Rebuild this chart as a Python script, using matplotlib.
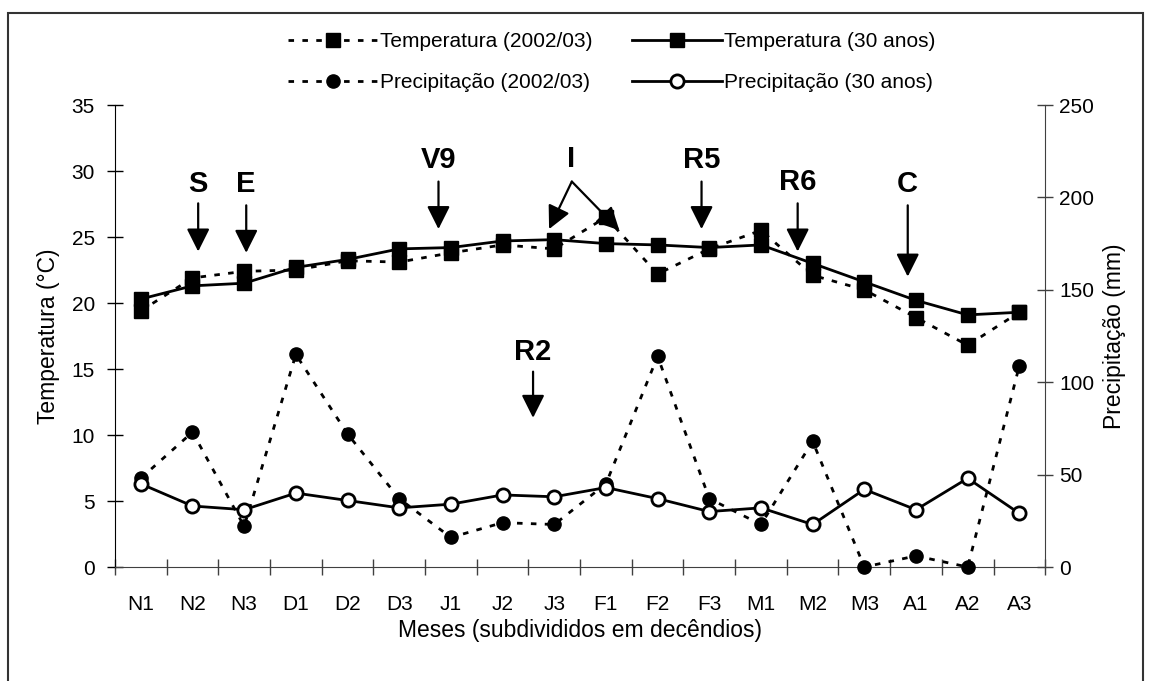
import matplotlib
matplotlib.use("Agg")
import matplotlib.pyplot as plt
from matplotlib.patches import Rectangle
from matplotlib.lines import Line2D

plt.rcParams["font.family"] = ["Liberation Sans", "DejaVu Sans"]

# decêndios (Nov -> Abr)
meses = ["N1", "N2", "N3", "D1", "D2", "D3", "J1", "J2", "J3",
         "F1", "F2", "F3", "M1", "M2", "M3", "A1", "A2", "A3"]
temp_0203 = [19.4, 21.9, 22.4, 22.5, 23.2, 23.1, 23.8, 24.4, 24.1,
             26.5, 22.2, 24.1, 25.5, 22.1, 21.0, 18.9, 16.8, 19.3]
temp_30 = [20.3, 21.3, 21.5, 22.7, 23.3, 24.1, 24.2, 24.7, 24.8,
           24.5, 24.4, 24.2, 24.4, 23.0, 21.6, 20.2, 19.1, 19.3]
prec_0203 = [48, 73, 22, 115, 72, 37, 16, 24, 23,
             45, 114, 37, 23, 68, 0, 6, 0, 109]
prec_30 = [45, 33, 31, 40, 36, 32, 34, 39, 38,
           43, 37, 30, 32, 23, 42, 31, 48, 29]

# estádios fenológicos: (texto, x, topo da seta, ponta, y do texto)
estadios = [("S", 1.11, 27.55, 23.9, 29.0),
            ("E", 2.04, 27.4, 23.8, 29.0),
            ("V9", 5.76, 29.2, 25.6, 30.8),
            ("R5", 10.85, 29.2, 25.6, 30.8),
            ("R6", 12.71, 27.55, 23.9, 29.2),
            ("C", 14.84, 27.4, 22.0, 29.0),
            ("R2", 7.59, 14.8, 11.3, 16.3)]

x = list(range(len(meses)))
fig = plt.figure(figsize=(11.52, 6.81), dpi=100)
ax = fig.add_axes([0.0998, 0.1674, 0.8075, 0.6784])
ax2 = ax.twinx()

sq = dict(marker="s", markersize=10, color="black")
ax.plot(x, temp_0203, ls=(0, (2, 3)), lw=2, **sq)
ax.plot(x, temp_30, ls="-", lw=2, **sq)
ax2.plot(x, prec_0203, ls=(0, (2, 3)), lw=2, marker="o", markersize=9.5, color="black", clip_on=False)
ax2.plot(x, prec_30, ls="-", lw=2, marker="o", markersize=9.5, color="black",
         markerfacecolor="white", markeredgewidth=2, clip_on=False)

ax.set_xlim(-0.5, 17.5)
ax.set_ylim(0, 35)
ax2.set_ylim(0, 250)
ax.set_yticks(range(0, 36, 5))
ax2.set_yticks(range(0, 251, 50))
ax.set_xticks(x)
ax.set_xticklabels(meses)
ax.set_xticks([i - 0.5 for i in range(len(meses) + 1)], minor=True)
ax.tick_params(axis="x", which="major", length=0, labelsize=15, pad=20)
ax.tick_params(axis="x", which="minor", direction="inout", length=12, width=1, color="#404040")
ax.tick_params(axis="y", direction="inout", length=12, width=1, labelsize=15, pad=8.5)
ax2.tick_params(axis="y", direction="inout", length=12, width=1, labelsize=15, pad=4, color="#404040")

for a in (ax, ax2):
    a.spines["top"].set_visible(False)
ax2.spines["left"].set_visible(False)
ax2.spines["bottom"].set_visible(False)
ax.spines["right"].set_visible(False)
ax2.spines["right"].set_color("#404040")
ax.spines["bottom"].set_color("#404040")

ax.set_ylabel("Temperatura (°C)", fontsize=16.5, labelpad=8)
ax2.set_ylabel("Precipitação (mm)", fontsize=16.5, labelpad=6)
ax.set_xlabel("Meses (subdivididos em decêndios)", fontsize=16.5, labelpad=4)

seta = dict(arrowstyle="-|>,head_length=1.4,head_width=0.7", lw=1.6, color="black",
            mutation_scale=10, shrinkA=0, shrinkB=0)
for txt, xa, topo, ponta, yt in estadios:
    ax.annotate("", xy=(xa, ponta), xytext=(xa, topo), arrowprops=seta)
    ax.text(xa, yt, txt, fontsize=21, fontweight="bold", ha="center", va="center")
# "I" com duas setas
ax.text(8.33, 30.9, "I", fontsize=21, fontweight="bold", ha="center", va="center")
for tip in [(7.9, 25.6), (9.26, 25.5)]:
    ax.annotate("", xy=tip, xytext=(8.34, 29.2), arrowprops=seta)

handles = [
    Line2D([], [], ls=(0, (2, 3)), lw=2, marker="s", markersize=10, color="black"),
    Line2D([], [], ls=(0, (2, 3)), lw=2, marker="o", markersize=9.5, color="black"),
    Line2D([], [], ls="-", lw=2, marker="s", markersize=10, color="black"),
    Line2D([], [], ls="-", lw=2, marker="o", markersize=9.5, color="black",
           markerfacecolor="white", markeredgewidth=2),
]
labels = ["Temperatura (2002/03)", "Precipitação (2002/03)",
          "Temperatura (30 anos)", "Precipitação (30 anos)"]
fig.legend(handles, labels, loc="center", bbox_to_anchor=(0.531, 0.909), ncol=2,
           frameon=False, fontsize=15, handlelength=4.3, handletextpad=0.1,
           columnspacing=1.9, labelspacing=1.05)

fig.patches.append(Rectangle((8 / 1152, -0.1), 1135 / 1152, 1.1 - 13 / 681,
                             transform=fig.transFigure, fill=False, lw=1.5,
                             edgecolor="#333333"))

fig.savefig("out.png", dpi=100)
